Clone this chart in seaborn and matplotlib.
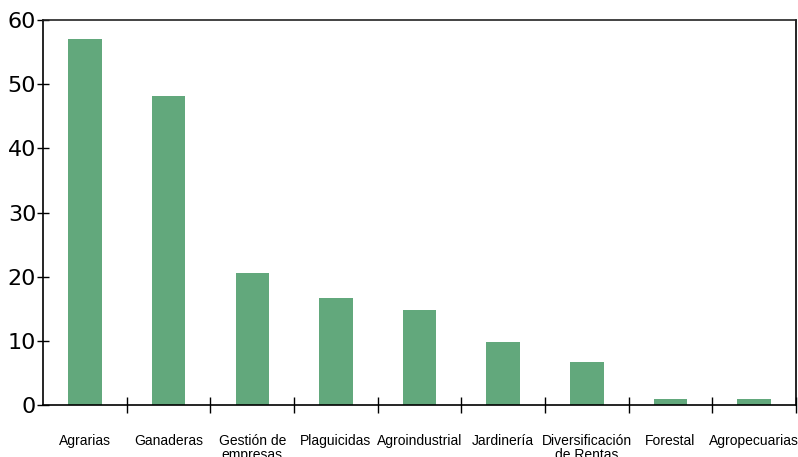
import matplotlib
matplotlib.use("Agg")
import matplotlib.pyplot as plt
import seaborn as sns
import pandas as pd
from matplotlib.ticker import FixedLocator

# Data
categorias = ["Agrarias", "Ganaderas", "Gestión de\nempresas", "Plaguicidas",
              "Agroindustrial", "Jardinería", "Diversificación\nde Rentas",
              "Forestal", "Agropecuarias"]
valores = [57, 48.1, 20.6, 16.7, 14.8, 9.8, 6.7, 0.9, 0.9]

df = pd.DataFrame({"cat": categorias, "val": valores})

sns.set_style("white")
plt.rcParams['font.family'] = ['Liberation Sans', 'DejaVu Sans']

fig = plt.figure(figsize=(7.98, 4.57), dpi=100)
ax = fig.add_axes([0.054, 0.114, 0.9435, 0.842])

sns.barplot(data=df, x="cat", y="val", color="#62a87c", width=0.4,
            saturation=1, linewidth=0, ax=ax)

ax.set_xlim(-0.5, len(categorias) - 0.5)
ax.set_ylim(0, 60)
ax.set_yticks(range(0, 61, 10))
ax.set_xlabel("")
ax.set_ylabel("")

# tick marks between categories, labels centered without marks
ax.xaxis.set_minor_locator(FixedLocator([i + 0.5 for i in range(len(categorias))]))
ax.tick_params(axis="x", which="major", bottom=True, length=0, pad=21,
               labelsize=10, labelcolor="black")
ax.tick_params(axis="x", which="minor", bottom=True, direction="inout",
               length=11, width=1, color="black")
ax.tick_params(axis="y", left=True, direction="inout", length=8, width=1,
               color="black", pad=1, labelcolor="black")
for lbl in ax.get_xticklabels():
    lbl.set_linespacing(1.0)
    lbl.set_verticalalignment("top")
for lbl in ax.get_yticklabels():
    lbl.set_fontsize(16)
    lbl.set_family("DejaVu Sans")

for side in ["left", "bottom", "right"]:
    ax.spines[side].set_visible(True)
    ax.spines[side].set_color("black")
    ax.spines[side].set_linewidth(1.2)
ax.spines["top"].set_visible(True)
ax.spines["top"].set_color("#222222")
ax.spines["top"].set_linewidth(1.2)

fig.savefig("out.png", dpi=100)
